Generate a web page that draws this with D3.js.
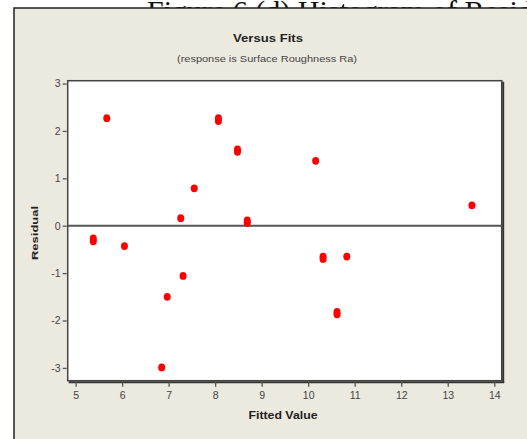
<!DOCTYPE html>
<html><head><meta charset="utf-8">
<script src="https://cdn.jsdelivr.net/npm/d3@7/dist/d3.min.js"></script>
<style>body{margin:0;background:#fff;overflow:hidden}svg{display:block}</style>
</head><body>
<script>
const fitted   = [5.38, 5.38, 6.05, 5.67, 8.07, 8.07, 8.48, 8.48, 7.55, 7.26, 8.69, 8.69, 10.16, 13.52, 7.31, 6.97, 6.85, 10.32, 10.32, 10.83, 10.62, 10.62];
const residual = [-0.27, -0.33, -0.43, 2.27, 2.27, 2.21, 1.61, 1.56, 0.79, 0.16, 0.11, 0.06, 1.37, 0.43, -1.06, -1.50, -2.99, -0.65, -0.70, -0.65, -1.82, -1.87];
const xTicks = [5, 6, 7, 8, 9, 10, 11, 12, 13, 14];
const yTicks = [-3, -2, -1, 0, 1, 2, 3];
const title = "Versus Fits";
const subtitle = "(response is Surface Roughness Ra)";
const xLabel = "Fitted Value";
const yLabel = "Residual";
const caption = "Figure 6 (d) Histogram of Residuals for Ra";

const W = 527, H = 439;
const svg = d3.select("body").append("svg").attr("width", W).attr("height", H);
const font = "'Liberation Sans', Arial, sans-serif";

// cut-off caption behind frame
svg.append("text").attr("x", 147).attr("y", 21)
  .attr("font-family", "'Liberation Serif', 'Times New Roman', serif")
  .attr("font-size", 30).attr("fill", "#111").text(caption);

// outer beige panel
svg.append("rect").attr("x", 14).attr("y", 8).attr("width", 560).attr("height", 450)
  .attr("fill", "#ECE9DF").attr("stroke", "#222").attr("stroke-width", 1.5);

const L = 67.7, R = 501.7, T = 80.7, B = 380.7;
const x = d3.scaleLinear().domain([4.83, 14.16]).range([L, R]);
const y = d3.scaleLinear().domain([-3.27, 3.06]).range([B, T]);

// plot area
svg.append("rect").attr("x", L).attr("y", T).attr("width", R - L).attr("height", B - T).attr("fill", "#fff");
// shadow
svg.append("line").attr("x1", R + 1.5).attr("x2", R + 1.5).attr("y1", T + 1).attr("y2", B + 2).attr("stroke", "#333").attr("stroke-width", 2);
svg.append("line").attr("x1", L + 1).attr("x2", R + 2.5).attr("y1", B + 1.5).attr("y2", B + 1.5).attr("stroke", "#333").attr("stroke-width", 2);
svg.append("rect").attr("x", L).attr("y", T).attr("width", R - L).attr("height", B - T)
  .attr("fill", "none").attr("stroke", "#444").attr("stroke-width", 1.5);

// reference line at 0
svg.append("line").attr("x1", L).attr("x2", R).attr("y1", y(0)).attr("y2", y(0))
  .attr("stroke", "#555").attr("stroke-width", 2);

// axes
const xAxis = svg.append("g").attr("transform", `translate(0,${B + 1})`)
  .call(d3.axisBottom(x).tickValues(xTicks).tickSize(5).tickPadding(5).tickFormat(d3.format("d")));
const yAxis = svg.append("g").attr("transform", `translate(${L - 1},0)`)
  .call(d3.axisLeft(y).tickValues(yTicks).tickSize(4).tickPadding(2).tickFormat(d => d < 0 ? "-" + Math.abs(d) : d));
[xAxis, yAxis].forEach(g => {
  g.select(".domain").remove();
  g.selectAll("line").attr("stroke", "#555").attr("stroke-width", 1.3);
  g.selectAll("text").attr("font-family", font).attr("font-size", 10.5).attr("fill", "#444");
});

// points
svg.append("g").selectAll("ellipse").data(fitted.map((f, i) => [f, residual[i]])).join("ellipse")
  .attr("cx", d => x(d[0])).attr("cy", d => y(d[1])).attr("rx", 3.5).attr("ry", 3.9).attr("fill", "#ff0000");

// titles
svg.append("text").attr("x", 268).attr("y", 42).attr("text-anchor", "middle")
  .attr("font-family", font).attr("font-size", 11).attr("font-weight", "bold")
  .attr("textLength", 70).attr("lengthAdjust", "spacingAndGlyphs").attr("fill", "#222").text(title);
svg.append("text").attr("x", 267).attr("y", 62).attr("text-anchor", "middle")
  .attr("font-family", font).attr("font-size", 9.5)
  .attr("textLength", 180).attr("lengthAdjust", "spacingAndGlyphs").attr("fill", "#444").text(subtitle);
svg.append("text").attr("x", 283).attr("y", 419).attr("text-anchor", "middle")
  .attr("font-family", font).attr("font-size", 10.5).attr("font-weight", "bold")
  .attr("textLength", 69).attr("lengthAdjust", "spacingAndGlyphs").attr("fill", "#222").text(xLabel);
svg.append("text").attr("transform", "translate(38,233) rotate(-90)").attr("text-anchor", "middle")
  .attr("font-family", font).attr("font-size", 9.5).attr("font-weight", "bold")
  .attr("textLength", 54).attr("lengthAdjust", "spacingAndGlyphs").attr("fill", "#222").text(yLabel);
</script>
</body></html>
